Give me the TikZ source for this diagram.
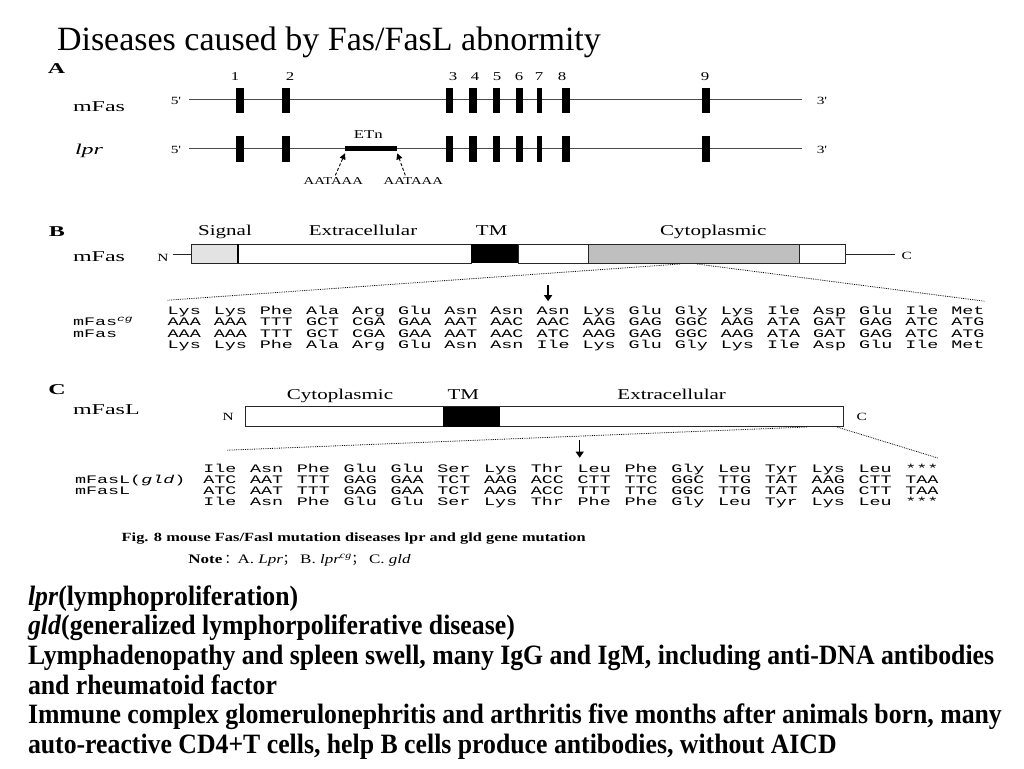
\documentclass[tikz,border=0pt]{standalone}
\usepackage{fontspec}
\setmainfont{Liberation Serif}
\newfontfamily\seqfont[FakeStretch=1.6]{Liberation Mono}
\newfontfamily\labfont[FakeStretch=1.4]{Liberation Serif}
\newfontfamily\capfont[FakeStretch=1.31]{Liberation Serif}
\newfontfamily\panelfont[FakeStretch=1.6]{Liberation Serif}
\newfontfamily\bodyfont[FakeStretch=0.92]{Liberation Serif}
\newfontfamily\cjkfont{Noto Sans CJK SC}
\usetikzlibrary{arrows.meta}
\newcommand{\fsz}[1]{\fontsize{#1}{#1}\selectfont}

\begin{document}
\begin{tikzpicture}[x=1pt, y=-1pt,
    every node/.style={inner sep=0pt, outer sep=0pt},
    title/.style={font=\fsz{34}, anchor=base west},
    panel/.style={font=\panelfont\bfseries\fsz{15}, anchor=base},
    gene/.style={font=\panelfont\fsz{15}, anchor=base west},
    primeend/.style={font=\labfont\fsz{11}, anchor=base},
    exnum/.style={font=\labfont\fsz{12}, anchor=base},
    region/.style={font=\labfont\fsz{15}, anchor=base},
    polyalab/.style={font=\labfont\fsz{10.5}, anchor=base},
    exon/.style={fill=black},
    intron/.style={draw=black!70, line width=0.8pt},
    part/.style={draw=black!85, line width=1pt},
    codon/.style={font=\seqfont\fsz{11.5}, anchor=base west},
    rowlab/.style={font=\seqfont\fsz{11.5}, anchor=base west},
    zoomline/.style={densely dotted, line width=0.8pt},
    site/.style={-{Triangle[length=6pt, width=8pt]}, line width=1.2pt},
    polya/.style={-{Triangle[length=6pt, width=6pt]}, densely dashed, line width=0.9pt},
    body/.style={font=\bodyfont\bfseries\fsz{28}, anchor=base west}
  ]
  \fill[white] (0,0) rectangle (1024,768);
  \useasboundingbox (0,0) rectangle (1024,768);

  \node[title] (title) at (57,50) {Diseases caused by Fas/FasL abnormity};

  % A: exon map
  \node[panel] (pA) at (56.5,73) {A};
  \node[gene] (mfasA) at (73,111) {mFas};
  \node[gene, font=\panelfont\itshape\fsz{15}] (lprA) at (75,154) {lpr};
  \coordinate (fasL) at (189,99.3);
  \coordinate (fasR) at (801.7,99.3);
  \coordinate (lprL) at (189,148.3);
  \coordinate (lprR) at (801.7,148.3);
  \draw[intron] (fasL) -- (fasR);
  \draw[intron] (lprL) -- (lprR);
  \node[primeend] (f5) at (176,104) {5'};
  \node[primeend] (f3) at (822,104) {3'};
  \node[primeend] (l5) at (176,153) {5'};
  \node[primeend] (l3) at (822,153) {3'};
  \foreach \x/\w/\n/\nx in {239.5/8/1/235, 286/8/2/290, 449.7/7.3/3/453, 473/7.3/4/475,
      496.3/7.3/5/497, 519.7/7.3/6/519, 539.5/5.6/7/539, 565.8/8.3/8/562, 705.8/8.3/9/705} {
    \fill[exon] (\x-\w/2,87.7) rectangle (\x+\w/2,113.3);
    \fill[exon] (\x-\w/2,136) rectangle (\x+\w/2,161.7);
    \node[exnum] (n\n) at (\nx,80) {\n};
  }
  \coordinate (etnL) at (345,148.3);
  \coordinate (etnR) at (397.3,148.3);
  \draw[line width=4.7pt] (etnL) -- (etnR);
  \node[region, font=\labfont\fsz{12}] (etn) at (368.3,138.3) {ETn};
  \node[polyalab] (aa1) at (333.3,184.3) {AATAAA};
  \node[polyalab] (aa2) at (413.3,184.3) {AATAAA};
  \draw[polya] ([xshift=2pt,yshift=2pt]aa1.north) -- ([yshift=-5pt]etnL);
  \draw[polya] ([xshift=-8pt,yshift=2pt]aa2.north) -- ([yshift=-5pt]etnR);

  % B: mFas protein
  \node[panel] (pB) at (57,236.5) {B};
  \node[gene] (mfasB) at (73,261) {mFas};
  \node[region] (sig) at (225,235) {Signal};
  \node[region] (extB) at (363,235) {Extracellular};
  \node[region] (tmB) at (491.7,235) {TM};
  \node[region] (cytB) at (713.3,235) {Cytoplasmic};
  \node[primeend] (nB) at (163,261.7) {N};
  \node[primeend] (cB) at (906.7,259) {C};
  \coordinate (bBw) at (191.7,254.3);
  \coordinate (bBe) at (845,254.3);
  \draw[part, fill=gray!22] (191.7,244.3) rectangle (238.3,263.3);
  \draw[part, fill=white] (238.3,244.3) rectangle (471,263.3);
  \draw[line width=2pt] (238.3,244.3) -- (238.3,263.3);
  \fill[black] (471,244.3) rectangle (518.3,263.3);
  \draw[part, fill=white] (518.3,244.3) rectangle (588.3,263.3);
  \draw[part, fill=gray!50] (588.3,244.3) rectangle (799,263.3);
  \draw[part, fill=white] (799,244.3) rectangle (845,263.3);
  \draw[part] ([xshift=4pt]nB.east |- bBw) -- (bBw);
  \draw[part] (bBe) -- ([xshift=-7pt]cB.west |- bBe);
  \coordinate (zB1) at (680,264);
  \coordinate (zB2) at (697,264);
  \foreach \c [count=\i from 0] in {Lys,Lys,Phe,Ala,Arg,Glu,Asn,Asn,Asn,Lys,Glu,Gly,Lys,Ile,Asp,Glu,Ile,Met}
    \node[codon] (b1c\i) at (167.7+46.1*\i,314.2) {\c};
  \foreach \c [count=\i from 0] in {AAA,AAA,TTT,GCT,CGA,GAA,AAT,AAC,AAC,AAG,GAG,GGC,AAG,ATA,GAT,GAG,ATC,ATG}
    \node[codon] (b2c\i) at (167.7+46.1*\i,325.7) {\c};
  \foreach \c [count=\i from 0] in {AAA,AAA,TTT,GCT,CGA,GAA,AAT,AAC,ATC,AAG,GAG,GGC,AAG,ATA,GAT,GAG,ATC,ATG}
    \node[codon] (b3c\i) at (167.7+46.1*\i,337.2) {\c};
  \foreach \c [count=\i from 0] in {Lys,Lys,Phe,Ala,Arg,Glu,Asn,Asn,Ile,Lys,Glu,Gly,Lys,Ile,Asp,Glu,Ile,Met}
    \node[codon] (b4c\i) at (167.7+46.1*\i,348.7) {\c};
  \node[rowlab] (rcg) at (73,325.7) {mFas\textsuperscript{\textit{cg}}};
  \node[rowlab] (rwtB) at (73,337.2) {mFas};
  \draw[zoomline] (zB1) -- ([yshift=14pt]b1c0.base west);
  \draw[zoomline] (zB2) -- ([yshift=13pt]b1c17.base east);
  \draw[site] ([xshift=-5pt,yshift=29pt]b1c8.base) -- ([xshift=-5pt,yshift=13pt]b1c8.base);

  % C: mFasL protein
  \node[panel] (pC) at (57,394) {C};
  \node[gene] (mfasl) at (73,414.3) {mFasL};
  \node[region] (cytC) at (340,399) {Cytoplasmic};
  \node[region] (tmC) at (463.3,399) {TM};
  \node[region] (extC) at (671.7,399) {Extracellular};
  \node[primeend] (nC) at (228.3,420) {N};
  \node[primeend] (cC) at (861.7,420.7) {C};
  \draw[part, fill=white] (245,406.7) rectangle (843.3,426.7);
  \fill[black] (442.7,406.7) rectangle (500,426.7);
  \coordinate (zC1) at (807,427);
  \coordinate (zC2) at (837,427);
  \foreach \c [count=\i from 0] in {Ile,Asn,Phe,Glu,Glu,Ser,Lys,Thr,Leu,Phe,Gly,Leu,Tyr,Lys,Leu,***}
    \node[codon] (c1c\i) at (203.3+46.8*\i,472.2) {\c};
  \foreach \c [count=\i from 0] in {ATC,AAT,TTT,GAG,GAA,TCT,AAG,ACC,CTT,TTC,GGC,TTG,TAT,AAG,CTT,TAA}
    \node[codon] (c2c\i) at (203.3+46.8*\i,483.5) {\c};
  \foreach \c [count=\i from 0] in {ATC,AAT,TTT,GAG,GAA,TCT,AAG,ACC,TTT,TTC,GGC,TTG,TAT,AAG,CTT,TAA}
    \node[codon] (c3c\i) at (203.3+46.8*\i,494.5) {\c};
  \foreach \c [count=\i from 0] in {Ile,Asn,Phe,Glu,Glu,Ser,Lys,Thr,Phe,Phe,Gly,Leu,Tyr,Lys,Leu,***}
    \node[codon] (c4c\i) at (203.3+46.8*\i,505.5) {\c};
  \node[rowlab] (rgld) at (75,483.5) {mFasL(\textit{gld})};
  \node[rowlab] (rwtC) at (75,494.5) {mFasL};
  \draw[zoomline] (zC1) -- ([xshift=24pt,yshift=22pt]c1c0.base west);
  \draw[zoomline] (zC2) -- ([yshift=14pt]c1c15.base east);
  \draw[site] ([xshift=2pt,yshift=32pt]c1c8.base west) -- ([xshift=2pt,yshift=14.5pt]c1c8.base west);

  \node[font=\capfont\bfseries\fsz{12.5}, anchor=base west] (caption) at (121.7,541)
    {Fig. 8 mouse Fas/Fasl mutation diseases lpr and gld gene mutation};
  \node[font=\capfont\fsz{13}, anchor=base west] (note) at (188.3,563.3)
    {\textbf{Note}\,{\cjkfont ：}A. \textit{Lpr}{\cjkfont ；}\ B. \textit{lpr\textsuperscript{cg}}{\cjkfont ；}\ C. \textit{gld}};

  \node[body] (t1) at (28,605) {\textit{lpr}(lymphoproliferation)};
  \node[body] (t2) at (28,634) {\textit{gld}(generalized lymphorpoliferative disease)};
  \node[body] (t3) at (28,664) {Lymphadenopathy and spleen swell, many IgG and IgM, including anti-DNA antibodies};
  \node[body] (t4) at (28,694) {and rheumatoid factor};
  \node[body] (t5) at (28,723.5) {Immune complex glomerulonephritis and arthritis five months after animals born, many};
  \node[body] (t6) at (28,753.5) {auto-reactive CD4+T cells, help B cells produce antibodies, without AICD};
\end{tikzpicture}
\end{document}
